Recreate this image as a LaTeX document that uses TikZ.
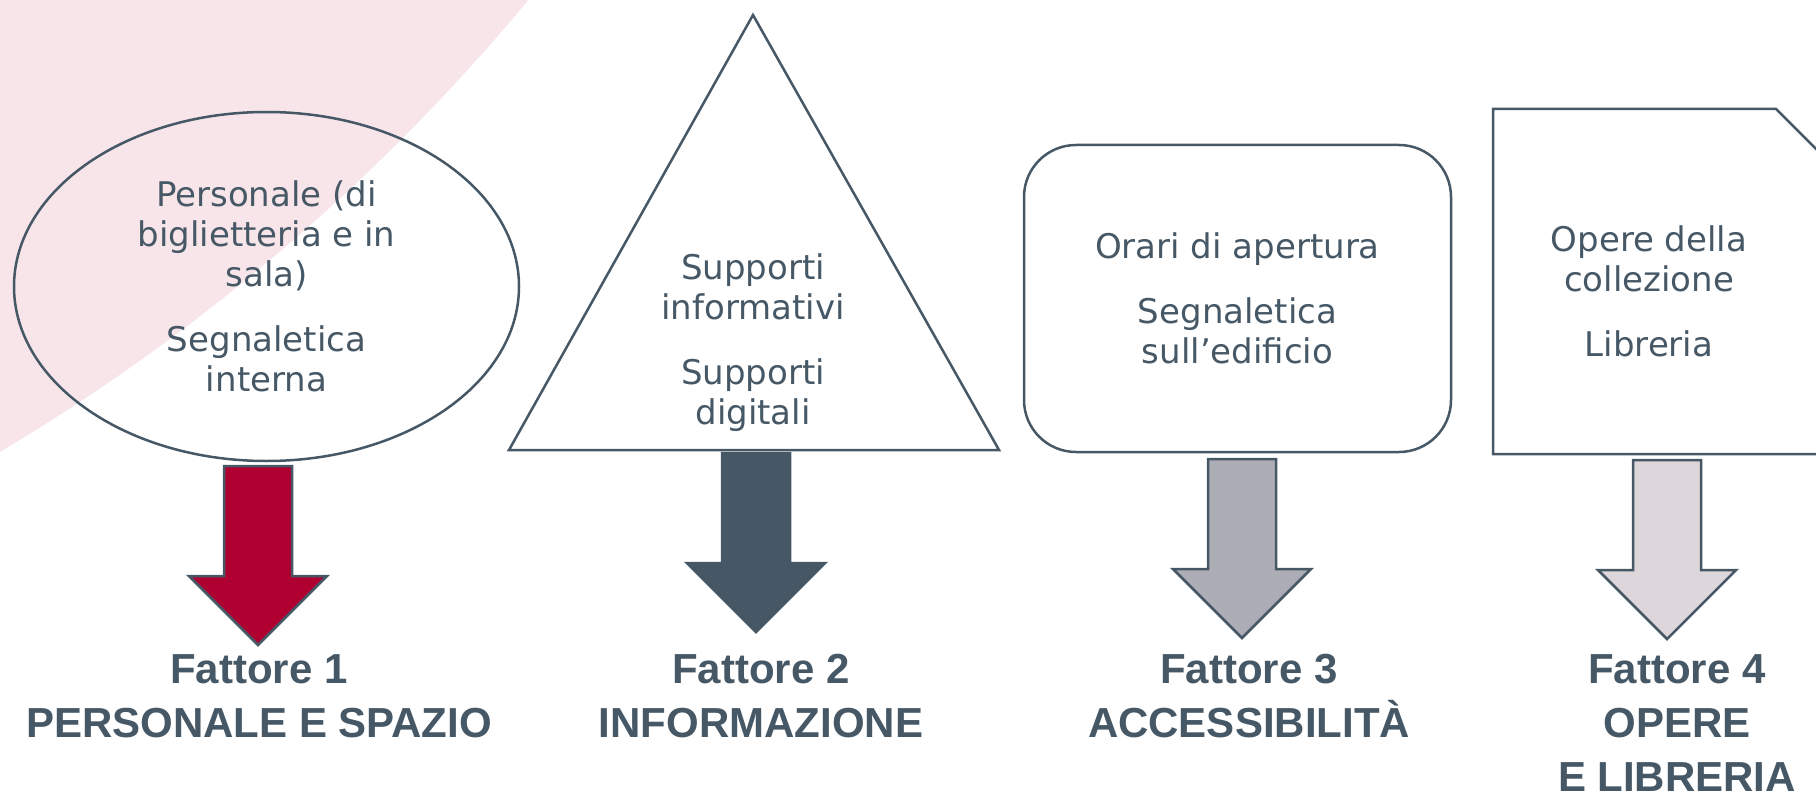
\documentclass[tikz,border=0pt]{standalone}
\usepackage{fontspec}
\setmainfont{DejaVu Sans}
\newfontfamily\labelfont{Liberation Sans}
\usetikzlibrary{shapes.geometric}

\definecolor{slate}{RGB}{70,88,102}
\definecolor{crimson}{RGB}{176,0,50}
\definecolor{ash}{RGB}{173,173,182}
\definecolor{mauve}{RGB}{221,214,219}
\definecolor{blush}{RGB}{247,229,233}

\begin{document}
\begin{tikzpicture}
    [
    x=1pt, y=-1pt,
    outline/.style={
        draw=slate,
        line width=2.5pt,
        text=slate,
        inner sep=0pt,
        align=center, % several lines in each shape
        font=\fontsize{34}{40}\selectfont
    },
    blockarrow/.style={
        draw=slate,
        line width=2.5pt,
        line join=miter
    },
    factor/.style={
        text=slate,
        inner sep=0pt,
        anchor=north,
        align=center,
        font=\labelfont\bfseries\fontsize{42}{54}\selectfont
    },
    ]

    \useasboundingbox (0,0) rectangle (1816,797);
    \clip (0,0) rectangle (1816,797);

    % soft disc in the corner
    \fill[blush] (-1040,-1300) circle[radius=2037pt];

    % the four shapes
    \draw (266.5,286.5) node[outline, ellipse, minimum width=505pt, minimum height=349pt] (staff)
        {Personale (di\\biglietteria e in\\sala)\\[25pt]Segnaletica\\interna};

    \draw[outline] (753,15) -- (999,450) -- (509,450) -- cycle;
    \node[outline, draw=none] (info) at (753,343)
        {Supporti\\informativi\\[25pt]Supporti\\digitali};

    \draw (1237.5,298.5) node[outline, rectangle, rounded corners=52pt, minimum width=427pt, minimum height=307pt] (hours)
        {Orari di apertura\\[25pt]Segnaletica\\sull’edificio};

    \draw[outline] (1493,109) -- (1776,109) -- (1850,183) -- (1850,454) -- (1493,454) -- cycle;
    \node[outline, draw=none] (works) at (1649,291)
        {Opere della\\collezione\\[25pt]Libreria};

    % arrow tops, just under each shape
    \coordinate (a1) at (258,466);
    \coordinate (a2) at (756,453);
    \coordinate (a3) at (1242,459);
    \coordinate (a4) at (1667,460);

    \foreach \a/\col in {a1/crimson, a2/slate, a3/ash, a4/mauve}
        \draw[blockarrow, fill=\col] (\a) ++(-34,0) -- ++(68,0) -- ++(0,110) -- ++(35,0)
            -- ++(-69,69) -- ++(-69,-69) -- ++(35,0) -- cycle;

    % labels under the arrows
    \node[factor] (f1) at (259,654) {Fattore 1\\PERSONALE E SPAZIO};
    \node[factor] (f2) at (761,654) {Fattore 2\\INFORMAZIONE};
    \node[factor] (f3) at (1249,654) {Fattore 3\\ACCESSIBILITÀ};
    \node[factor] (f4) at (1677,654) {Fattore 4\\OPERE\\E LIBRERIA};

\end{tikzpicture}
\end{document}
